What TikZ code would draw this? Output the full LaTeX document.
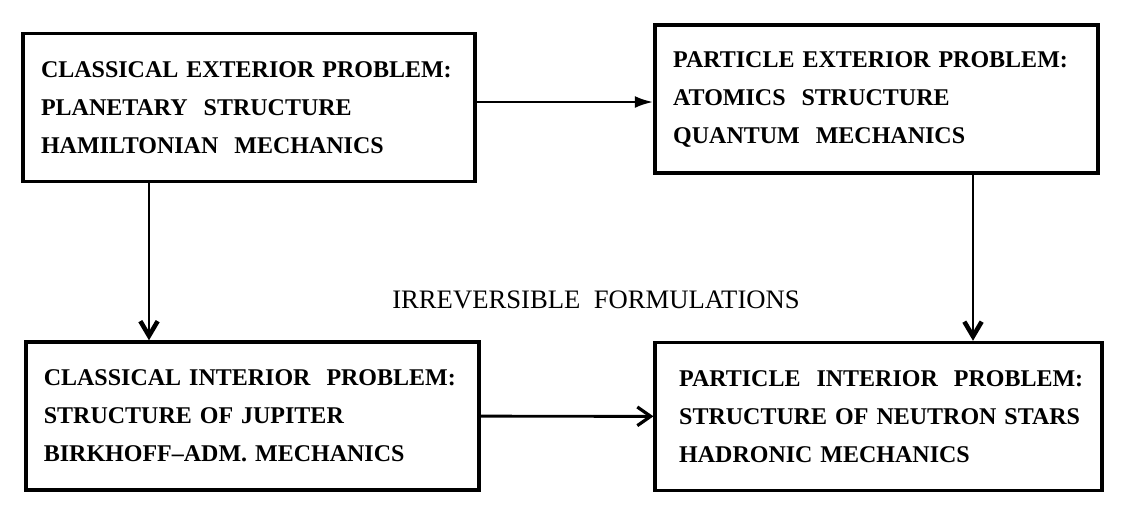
\documentclass[tikz,border=0pt]{standalone}
\usepackage{fontspec}
\setmainfont{Liberation Serif}
\usetikzlibrary{arrows.meta}

\tikzset{
  probbox/.style={draw, line width=2.6pt, inner xsep=13.5pt, inner ysep=0pt,
    minimum height=111pt, align=left,
    font=\fontsize{18}{28.5}\selectfont\bfseries},
  fillarrow/.style={line width=2.2pt, -{Latex[length=14pt,width=9pt]}},
  openarrow/.style={line width=2.2pt, -{Straight Barb[length=10pt,width=14pt,line width=2.4pt]}},
  heavyarrow/.style={line width=2.2pt, -{Straight Barb[length=11pt,width=13pt,line width=3.4pt]}}
}

\begin{document}
\begin{tikzpicture}[x=0.75pt, y=-0.75pt]
  \useasboundingbox (0,0) rectangle (1129,512);

  \node[probbox, text width=312pt] (tl) at (249,107.5)
    {CLASSICAL EXTERIOR PROBLEM:\\ PLANETARY~ STRUCTURE\\ HAMILTONIAN~ MECHANICS};
  \node[probbox, text width=305pt] (tr) at (876.5,99)
    {PARTICLE EXTERIOR PROBLEM:\\ ATOMICS~ STRUCTURE\\ QUANTUM~ MECHANICS};
  \node[probbox, text width=313pt] (bl) at (252.5,416)
    {CLASSICAL INTERIOR~ PROBLEM:\\ STRUCTURE OF JUPITER\\ BIRKHOFF--ADM. MECHANICS};
  \node[probbox, text width=299pt, inner xsep=18pt] (br) at (878.5,416.5)
    {\mbox{PARTICLE~ INTERIOR~ PROBLEM:}\\ \mbox{STRUCTURE OF NEUTRON STARS}\\ HADRONIC MECHANICS};

  \node[font=\fontsize{20}{24}\selectfont] (irr) at (596,300) {IRREVERSIBLE~ FORMULATIONS};

  \coordinate (lx) at (149,0);
  \coordinate (rx) at (973,0);
  \coordinate (ty) at (0,102);

  \draw[fillarrow] (tl.east |- ty) -- (tr.west |- ty);
  \draw[heavyarrow] (tl.south -| lx) -- (bl.north -| lx);
  \draw[heavyarrow] (tr.south -| rx) -- (br.north -| rx);
  \draw[openarrow] (bl) -- (br);
\end{tikzpicture}
\end{document}
